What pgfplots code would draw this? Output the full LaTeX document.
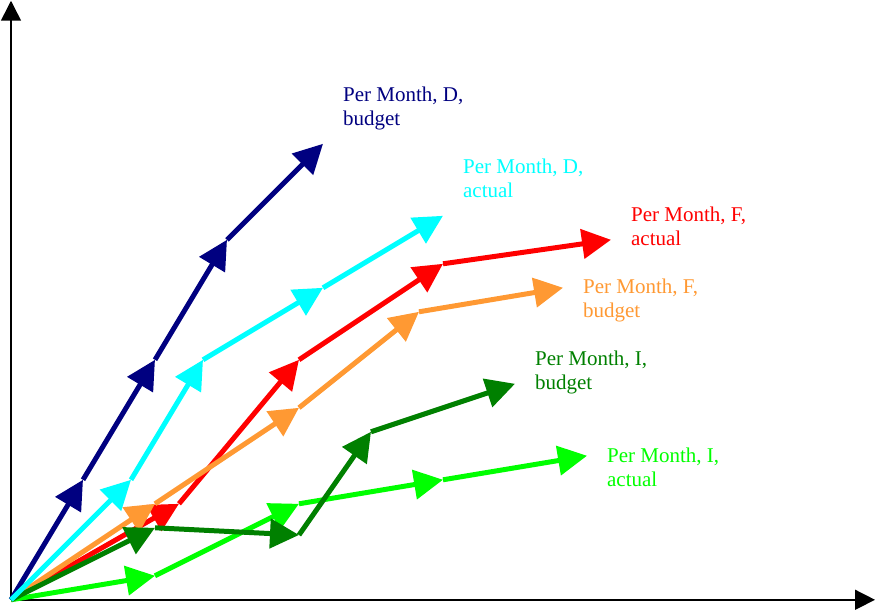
\documentclass[border=0pt]{standalone}
\usepackage{pgfplots}
\pgfplotsset{compat=1.18}
\usetikzlibrary{arrows.meta}
\usepackage{fontspec}
\setmainfont{Liberation Serif}
\definecolor{cNavy}{RGB}{0,0,128}
\definecolor{cCyan}{RGB}{0,255,255}
\definecolor{cRed}{RGB}{255,0,0}
\definecolor{cOrange}{RGB}{255,153,51}
\definecolor{cDGreen}{RGB}{0,128,0}
\definecolor{cLGreen}{RGB}{0,255,0}
\tikzset{lbl/.style={anchor=base west, align=left, inner sep=0pt, font=\fontsize{21}{24}\selectfont}}
\begin{document}
\begin{tikzpicture}
\begin{axis}[
  x=24pt, y=24pt,
  xmin=0, xmax=36, ymin=0, ymax=24.96,
  axis lines=left,
  axis line style={line width=1.5pt, -{Triangle[length=20pt,width=20pt]}},
  xtick=\empty, ytick=\empty,
  clip=false,
  every axis plot/.append style={line width=5pt, -{Triangle[length=29pt,width=29pt]}},
]
% Per Month, I, actual
\addplot[color=cLGreen, quiver={u=\thisrow{u},v=\thisrow{v}}] table {
x y u v
0 0 6 1
6 1 6 3
12 4 6 1
18 5 6 1
};
% Per Month, F, actual
\addplot[color=cRed, quiver={u=\thisrow{u},v=\thisrow{v}}] table {
x y u v
0 0 7 4
7 4 5 6
12 10 6 4
18 14 7 1
};
% Per Month, F, budget
\addplot[color=cOrange, quiver={u=\thisrow{u},v=\thisrow{v}}] table {
x y u v
0 0 6 4
6 4 6 4
12 8 5 4
17 12 6 1
};
% Per Month, I, budget
\addplot[color=cDGreen, quiver={u=\thisrow{u},v=\thisrow{v}}] table {
x y u v
0 0 6 3
6 3 6 -0.3
12 2.7 3 4.3
15 7 6 2
};
% Per Month, D, budget
\addplot[color=cNavy, quiver={u=\thisrow{u},v=\thisrow{v}}] table {
x y u v
0 0 3 5
3 5 3 5
6 10 3 5
9 15 4 4
};
% Per Month, D, actual
\addplot[color=cCyan, quiver={u=\thisrow{u},v=\thisrow{v}}] table {
x y u v
0 0 5 5
5 5 3 5
8 10 5 3
13 13 5 3
};
\node[lbl, text=cNavy] at (axis cs:13.83,19.75) {Per Month, D,\\budget};
\node[lbl, text=cCyan] at (axis cs:18.83,16.75) {Per Month, D,\\actual};
\node[lbl, text=cRed] at (axis cs:25.83,14.75) {Per Month, F,\\actual};
\node[lbl, text=cOrange] at (axis cs:23.83,11.75) {Per Month, F,\\budget};
\node[lbl, text=cDGreen] at (axis cs:21.83,8.75) {Per Month, I,\\budget};
\node[lbl, text=cLGreen] at (axis cs:24.83,4.71) {Per Month, I,\\actual};
\path (axis cs:0,0) ++(-11pt,-16pt) coordinate (bbA);
\path (axis cs:36,24.96) ++(2pt,0pt) coordinate (bbB);
\end{axis}
\end{tikzpicture}
\end{document}
